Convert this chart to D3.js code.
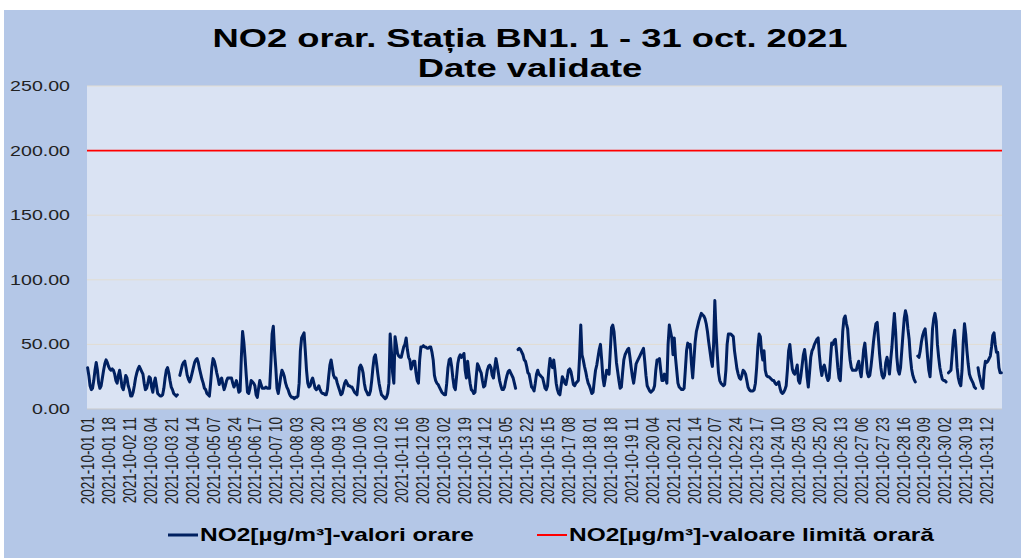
<!DOCTYPE html>
<html>
<head>
<meta charset="utf-8">
<script src="https://cdn.jsdelivr.net/npm/d3@7"></script>
<style>
  body { margin: 0; background: #fff; }
  text { font-family: "Liberation Sans", Arial, sans-serif; }
</style>
</head>
<body>
<div class="main"></div>
<script>
const width = 1033;
const height = 558;
const stretch = 1.4; // the picture is stretched sideways

// hourly NO2 values, one row per day (hours 01..24), null = missing
const no2 = [
  32,26,18,15,16,22,30,36,30,20,16,18,24,30,35,38,36,33,31,30,31,30,27,22, // 01
  20,26,30,24,17,15,20,26,24,18,15,10,10,13,18,24,28,31,33,31,29,27,20,15, // 02
  16,20,25,24,17,13,20,24,18,12,11,10,10,11,16,24,30,32,28,22,17,15,12,11, // 03
  10,11,null,26,30,34,36,37,32,26,23,21,24,28,32,36,38,39,36,31,27,23,20,16, // 04
  15,12,11,10,20,32,39,37,33,28,24,19,22,24,19,15,18,22,24,24,24,24,20,17, // 05
  19,22,18,13,14,40,60,52,40,26,13,12,16,22,21,20,18,11,9,16,22,19,16,16, // 06
  16,17,16,16,16,35,58,64,45,32,16,12,18,25,30,28,25,20,17,15,12,10,9,9, // 07
  8,9,9,10,20,45,55,57,59,45,30,20,17,18,22,24,20,16,15,16,18,15,13,12, // 08
  12,11,11,15,25,34,38,32,26,24,24,20,17,14,11,12,16,20,22,20,18,18,17,17, // 09
  15,13,12,11,20,32,34,32,28,20,15,13,11,11,14,22,32,40,42,35,27,20,15,11, // 10
  10,9,8,9,12,20,58,45,28,20,56,50,43,41,40,40,44,48,50,55,46,40,38,31, // 11
  34,37,37,28,22,20,38,48,48,49,48,48,47,47,48,48,44,38,26,22,20,19,17,15, // 12
  13,12,11,11,20,32,38,39,33,24,17,15,25,35,40,42,40,41,43,30,24,37,28,20, // 13
  15,14,12,13,25,35,33,30,28,22,17,18,24,30,33,34,32,26,24,32,39,34,28,22, // 14
  18,15,15,17,22,26,29,30,28,26,24,20,16,null,46,47,46,44,42,38,37,33,28,27, // 15
  22,17,16,14,20,27,30,27,26,25,24,20,16,15,18,30,39,35,32,38,30,20,15,12, // 16
  11,18,25,23,20,19,24,30,31,29,24,19,18,20,21,22,40,65,42,38,33,29,24,20, // 17
  18,15,12,13,22,30,34,40,46,50,38,24,18,24,30,28,27,45,63,65,60,48,36,29, // 18
  22,16,17,28,38,42,44,46,47,40,32,25,20,27,35,37,39,41,43,45,47,37,26,18, // 19
  16,14,13,14,15,18,30,38,38,39,30,22,22,27,24,20,50,65,60,55,42,55,40,30, // 20
  20,17,16,15,15,16,30,45,51,48,50,35,24,38,52,60,64,68,71,74,73,72,70,66, // 21
  60,52,45,38,33,50,84,60,42,28,22,20,19,18,19,30,50,58,58,58,57,56,45,38, // 22
  31,27,24,23,26,30,29,27,22,17,15,14,14,14,15,20,32,48,58,56,44,38,45,30, // 23
  26,25,25,24,23,22,22,20,19,20,21,16,13,12,13,15,18,30,45,50,40,31,28,27, // 24
  30,34,22,20,26,34,42,46,38,25,17,28,40,45,47,50,52,54,55,42,32,26,32,34, // 25
  30,25,22,24,38,51,50,53,54,44,32,24,22,40,60,70,72,66,62,48,38,32,30,30, // 26
  30,30,34,37,30,25,35,46,51,40,28,25,26,33,42,52,60,66,67,55,42,32,26,24, // 27
  26,36,40,35,27,38,48,62,74,60,40,30,27,32,45,58,70,76,72,62,54,40,31,26, // 28
  23,21,null,41,40,45,52,57,60,62,52,40,30,25,42,62,70,74,68,50,40,32,27,23, // 29
  22,22,21,null,28,29,30,42,55,61,48,32,24,20,18,30,52,66,58,45,35,27,24,22, // 30
  20,17,16,null,32,26,22,18,16,30,37,36,37,39,41,48,57,59,50,44,44,32,28,28  // 31
];
const limitValue = 200;
const yTicks = [0, 50, 100, 150, 200, 250];
const tickEvery = 17;

// categories like "2021-10-05 24"
const pad = (n) => String(n).padStart(2, "0");
const categories = no2.map((_, i) =>
  `2021-10-${pad(Math.floor(i / 24) + 1)} ${pad((i % 24) + 1)}`);

const titleLines = ["NO2 orar. Stația BN1. 1 - 31 oct. 2021", "Date validate"];
const seriesName = "NO2[µg/m³]-valori orare";
const limitName = "NO2[µg/m³]-valoare limită orară";

const plot = { left: 87, right: 1002, top: 86, bottom: 409 };

const svg = d3.select(".main")
  .append("svg")
    .attr("width", width)
    .attr("height", height);

// chart background
svg.append("rect")
  .attr("x", 4).attr("y", 10)
  .attr("width", 1017).attr("height", height - 10)
  .attr("fill", "#b4c7e7");

svg.append("rect")
  .attr("x", plot.left).attr("y", plot.top)
  .attr("width", plot.right - plot.left).attr("height", plot.bottom - plot.top)
  .attr("fill", "#dae3f3");

const x = d3.scalePoint()
  .domain(d3.range(no2.length))
  .range([plot.left, plot.right])
  .padding(0.5);

const y = d3.scaleLinear()
  .domain([0, 250])
  .range([plot.bottom, plot.top]);

// grid
svg.append("g")
  .selectAll("line")
  .data(yTicks)
  .join("line")
    .attr("x1", plot.left).attr("x2", plot.right)
    .attr("y1", (d) => y(d)).attr("y2", (d) => y(d))
    .attr("stroke", (d) => d === 0 ? "#c9c9c9" : "#e2ddd2")
    .attr("stroke-width", 1);

// y labels
svg.append("g")
  .selectAll("text")
  .data(yTicks)
  .join("text")
    .attr("transform", (d) => `translate(70,${y(d)}) scale(${stretch},1)`)
    .attr("text-anchor", "end")
    .attr("dy", "0.35em")
    .attr("font-size", "14px")
    .attr("fill", "#222")
    .text((d) => d.toFixed(2));

// x labels
const tickIdx = d3.range(0, no2.length, tickEvery);
svg.append("g")
  .selectAll("text")
  .data(tickIdx)
  .join("text")
    .attr("transform", (i) => `translate(${x(i)},417) scale(${stretch},1) rotate(-90)`)
    .attr("text-anchor", "end")
    .attr("dy", "0.35em")
    .attr("font-size", "13.4px")
    .attr("fill", "#222")
    .text((i) => categories[i]);

// limit line
svg.append("line")
  .attr("x1", plot.left).attr("x2", plot.right)
  .attr("y1", y(limitValue)).attr("y2", y(limitValue))
  .attr("stroke", "#ff0000")
  .attr("stroke-width", 1.6);

// hourly series
const line = d3.line()
  .defined((d) => d != null)
  .x((d, i) => x(i))
  .y((d) => y(d));

svg.append("path")
  .datum(no2)
  .attr("d", line)
  .attr("fill", "none")
  .attr("stroke", "#002060")
  .attr("stroke-width", 3)
  .attr("stroke-linejoin", "round")
  .attr("stroke-linecap", "round");

// title
svg.append("g")
  .selectAll("text")
  .data(titleLines)
  .join("text")
    .attr("transform", (d, i) => `translate(530,${47 + i * 30}) scale(${stretch},1)`)
    .attr("text-anchor", "middle")
    .attr("font-size", "26px")
    .attr("font-weight", "bold")
    .text((d) => d);

// legend
const legend = [
  { name: seriesName, color: "#002060", w: 3, x: 168 },
  { name: limitName, color: "#ff0000", w: 2, x: 537 }
];
const lg = svg.append("g")
  .selectAll("g")
  .data(legend)
  .join("g");
lg.append("line")
  .attr("x1", (d) => d.x).attr("x2", (d) => d.x + 30)
  .attr("y1", 535).attr("y2", 535)
  .attr("stroke", (d) => d.color)
  .attr("stroke-width", (d) => d.w);
lg.append("text")
  .attr("transform", (d) => `translate(${d.x + 32},541) scale(${stretch},1)`)
  .attr("font-size", "17.5px")
  .attr("font-weight", "bold")
  .text((d) => d.name);
</script>
</body>
</html>
